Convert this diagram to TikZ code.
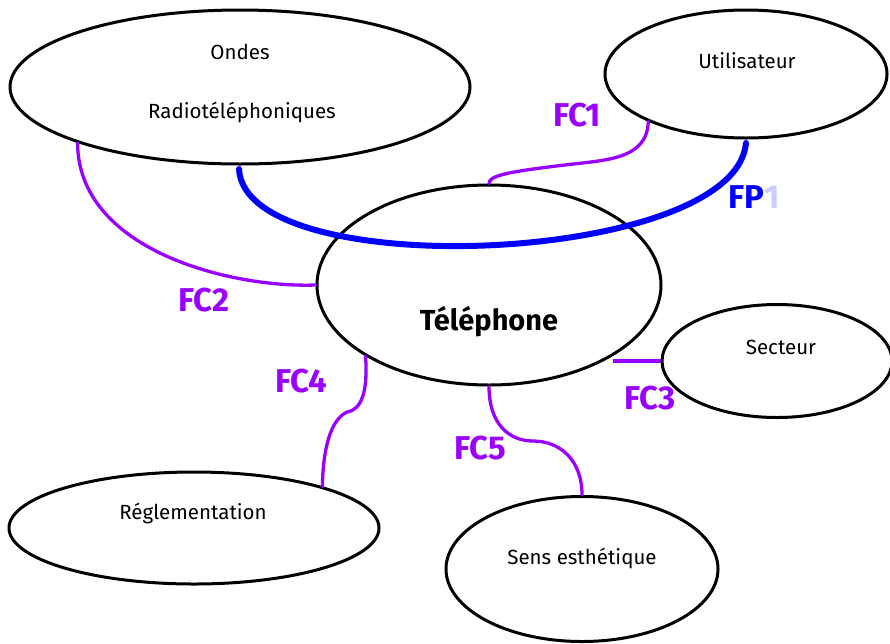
\documentclass[tikz,border=0pt]{standalone}
\usepackage{fontspec}
\setmainfont{Fira Sans}
\usetikzlibrary{shapes.geometric}
\definecolor{fcviolet}{RGB}{153,0,255}
\definecolor{fpbleu}{RGB}{0,0,255}
\definecolor{fpclair}{RGB}{204,204,255}

\begin{document}
\begin{tikzpicture}[line cap=round,line join=round,x=1pt,y=-1pt,
  bulle/.style={ellipse,draw,line width=3pt,inner sep=0pt},
  fc/.style={fcviolet,line width=3.3pt},
  fp/.style={fpbleu,line width=6pt},
  etiq/.style={font=\fontsize{33}{33}\selectfont\bfseries},
  nom/.style={font=\fontsize{20.5}{20.5}\selectfont}]
\useasboundingbox (0,0) rectangle (890,643);
% les bulles
\node[bulle,minimum width=460,minimum height=154] (ondes) at (240,87) {};
\node[bulle,minimum width=282,minimum height=128] (util) at (746,74) {};
\node[bulle,minimum width=344,minimum height=200] (tel) at (489,285) {};
\node[bulle,minimum width=230,minimum height=113] (sect) at (777,361) {};
\node[bulle,minimum width=370,minimum height=112] (regl) at (194,528) {};
\node[bulle,minimum width=272,minimum height=145] (sens) at (582,569) {};
% les textes
\node[nom] (ondestxt) at (240,52) {Ondes};
\node[nom] (radiotxt) at (242,112) {Radiotéléphoniques};
\node[nom] (utiltxt) at (747,61) {Utilisateur};
\node[font=\fontsize{29}{29}\selectfont\bfseries] (teltxt) at (489,322) {Téléphone};
\node[nom] (secttxt) at (781,347) {Secteur};
\node[nom] (regltxt) at (193,513) {Réglementation};
\node[nom] (senstxt) at (582,558) {Sens esthétique};
% extremites libres
\coordinate (fpa) at (239,169);
\coordinate (fpb) at (746,143);
\coordinate (fc3a) at (613,361);
% fonction principale
\draw[fp] (fpa) .. controls (245,285) and (735,265) .. (fpb);
% fonctions contraintes
\draw[fc] (util.206) .. controls (647,160) and (605,160) .. (565,165)
  .. controls (505,172) and (489,176) .. (tel.north);
\draw[fc] (ondes.199) .. controls (78,250) and (230,288) .. (tel.west);
\draw[fc,line cap=butt] (fc3a) -- (sect.west);
\draw[fc] (tel.210) .. controls (368,390) and (362,410) .. (347,412)
  .. controls (330,420) and (323,450) .. (regl.18);
\draw[fc] (tel.south) .. controls (489,425) and (510,441) .. (533,441)
  .. controls (560,441) and (582,460) .. (sens.north);
% etiquettes
\node[etiq,fcviolet] (fc1) at (577,115) {FC1};
\node[etiq] (fp1) at (754,197) {\textcolor{fpbleu}{FP}\textcolor{fpclair}{1}};
\node[etiq,fcviolet] (fc2) at (204,300) {FC2};
\node[etiq,fcviolet] (fc3) at (650,398) {FC3};
\node[etiq,fcviolet] (fc4) at (301,381) {FC4};
\node[etiq,fcviolet] (fc5) at (480,448) {FC5};
\end{tikzpicture}
\end{document}
